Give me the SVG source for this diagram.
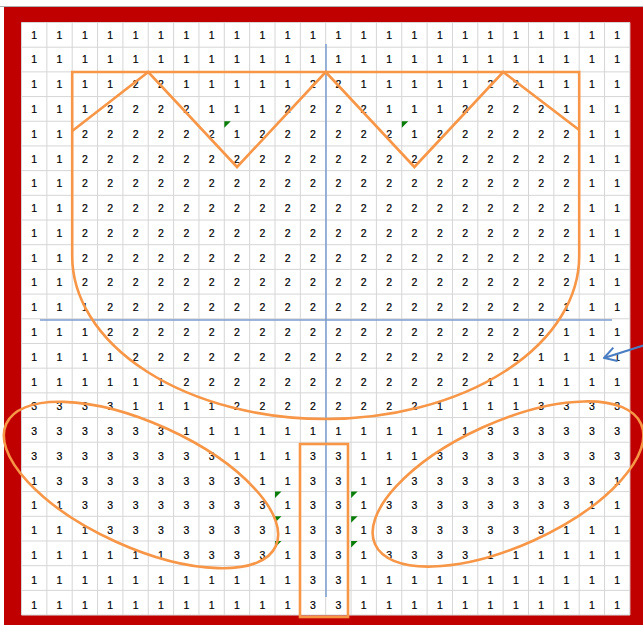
<svg xmlns="http://www.w3.org/2000/svg" width="643" height="625" viewBox="0 0 643 625">
<style>
.n{font-family:"Liberation Sans",Arial,sans-serif;font-size:10.5px;fill:#000;stroke:#000;stroke-width:0.2;text-anchor:middle}
.grid{fill:none;stroke:#d6d6d6;stroke-width:1}
.shape{fill:none;stroke:#f79646;stroke-width:2.6}
.axis{stroke:#7a9ccf;stroke-width:1.5;fill:none}
.err{fill:#0b7d0b}
</style>
<defs>
<marker id="ah" markerWidth="14" markerHeight="16" refX="13" refY="8" orient="auto" markerUnits="userSpaceOnUse">
<path d="M1 1L13 8L1 15" fill="none" stroke="#4a7ec2" stroke-width="2"/>
</marker>
</defs>
<rect width="643" height="625" fill="#fff"/>
<line x1="0" y1="6.5" x2="643" y2="6.5" stroke="#b0b0b0" stroke-width="1"/>
<rect id="frame" x="4" y="7" width="639" height="618" fill="#c00000"/>
<rect x="21.5" y="22.5" width="608.4" height="592.5" fill="#fff"/>
<g id="grid">
<path class="grid" d="M21.5 22.5V615M46.85 22.5V615M72.2 22.5V615M97.55 22.5V615M122.9 22.5V615M148.25 22.5V615M173.6 22.5V615M198.95 22.5V615M224.3 22.5V615M249.65 22.5V615M275 22.5V615M300.35 22.5V615M325.7 22.5V615M351.05 22.5V615M376.4 22.5V615M401.75 22.5V615M427.1 22.5V615M452.45 22.5V615M477.8 22.5V615M503.15 22.5V615M528.5 22.5V615M553.85 22.5V615M579.2 22.5V615M604.55 22.5V615M629.9 22.5V615M21.5 22.5H629.9M21.5 47.19H629.9M21.5 71.88H629.9M21.5 96.57H629.9M21.5 121.26H629.9M21.5 145.95H629.9M21.5 170.64H629.9M21.5 195.33H629.9M21.5 220.02H629.9M21.5 244.71H629.9M21.5 269.4H629.9M21.5 294.09H629.9M21.5 318.78H629.9M21.5 343.47H629.9M21.5 368.16H629.9M21.5 392.85H629.9M21.5 417.54H629.9M21.5 442.23H629.9M21.5 466.92H629.9M21.5 491.61H629.9M21.5 516.3H629.9M21.5 540.99H629.9M21.5 565.68H629.9M21.5 590.37H629.9M21.5 615.06H629.9"/>
</g>
<g id="cells" class="n">
<g transform="translate(0 38.6)"><text x="34.2">1</text><text x="59.5">1</text><text x="84.9">1</text><text x="110.2">1</text><text x="135.6">1</text><text x="160.9">1</text><text x="186.3">1</text><text x="211.6">1</text><text x="237">1</text><text x="262.3">1</text><text x="287.7">1</text><text x="313">1</text><text x="338.4">1</text><text x="363.7">1</text><text x="389.1">1</text><text x="414.4">1</text><text x="439.8">1</text><text x="465.1">1</text><text x="490.5">1</text><text x="515.8">1</text><text x="541.2">1</text><text x="566.5">1</text><text x="591.9">1</text><text x="617.2">1</text></g>
<g transform="translate(0 63.4)"><text x="34.2">1</text><text x="59.5">1</text><text x="84.9">1</text><text x="110.2">1</text><text x="135.6">1</text><text x="160.9">1</text><text x="186.3">1</text><text x="211.6">1</text><text x="237">1</text><text x="262.3">1</text><text x="287.7">1</text><text x="313">1</text><text x="338.4">1</text><text x="363.7">1</text><text x="389.1">1</text><text x="414.4">1</text><text x="439.8">1</text><text x="465.1">1</text><text x="490.5">1</text><text x="515.8">1</text><text x="541.2">1</text><text x="566.5">1</text><text x="591.9">1</text><text x="617.2">1</text></g>
<g transform="translate(0 88.2)"><text x="34.2">1</text><text x="59.5">1</text><text x="84.9">1</text><text x="110.2">1</text><text x="135.6">2</text><text x="160.9">2</text><text x="186.3">1</text><text x="211.6">1</text><text x="237">1</text><text x="262.3">1</text><text x="287.7">1</text><text x="313">2</text><text x="338.4">2</text><text x="363.7">1</text><text x="389.1">1</text><text x="414.4">1</text><text x="439.8">1</text><text x="465.1">1</text><text x="490.5">2</text><text x="515.8">2</text><text x="541.2">1</text><text x="566.5">1</text><text x="591.9">1</text><text x="617.2">1</text></g>
<g transform="translate(0 112.9)"><text x="34.2">1</text><text x="59.5">1</text><text x="84.9">1</text><text x="110.2">2</text><text x="135.6">2</text><text x="160.9">2</text><text x="186.3">2</text><text x="211.6">1</text><text x="237">1</text><text x="262.3">1</text><text x="287.7">2</text><text x="313">2</text><text x="338.4">2</text><text x="363.7">2</text><text x="389.1">1</text><text x="414.4">1</text><text x="439.8">1</text><text x="465.1">2</text><text x="490.5">2</text><text x="515.8">2</text><text x="541.2">2</text><text x="566.5">1</text><text x="591.9">1</text><text x="617.2">1</text></g>
<g transform="translate(0 137.7)"><text x="34.2">1</text><text x="59.5">1</text><text x="84.9">2</text><text x="110.2">2</text><text x="135.6">2</text><text x="160.9">2</text><text x="186.3">2</text><text x="211.6">2</text><text x="237">1</text><text x="262.3">2</text><text x="287.7">2</text><text x="313">2</text><text x="338.4">2</text><text x="363.7">2</text><text x="389.1">2</text><text x="414.4">1</text><text x="439.8">2</text><text x="465.1">2</text><text x="490.5">2</text><text x="515.8">2</text><text x="541.2">2</text><text x="566.5">2</text><text x="591.9">1</text><text x="617.2">1</text></g>
<g transform="translate(0 162.5)"><text x="34.2">1</text><text x="59.5">1</text><text x="84.9">2</text><text x="110.2">2</text><text x="135.6">2</text><text x="160.9">2</text><text x="186.3">2</text><text x="211.6">2</text><text x="237">2</text><text x="262.3">2</text><text x="287.7">2</text><text x="313">2</text><text x="338.4">2</text><text x="363.7">2</text><text x="389.1">2</text><text x="414.4">2</text><text x="439.8">2</text><text x="465.1">2</text><text x="490.5">2</text><text x="515.8">2</text><text x="541.2">2</text><text x="566.5">2</text><text x="591.9">1</text><text x="617.2">1</text></g>
<g transform="translate(0 187.3)"><text x="34.2">1</text><text x="59.5">1</text><text x="84.9">2</text><text x="110.2">2</text><text x="135.6">2</text><text x="160.9">2</text><text x="186.3">2</text><text x="211.6">2</text><text x="237">2</text><text x="262.3">2</text><text x="287.7">2</text><text x="313">2</text><text x="338.4">2</text><text x="363.7">2</text><text x="389.1">2</text><text x="414.4">2</text><text x="439.8">2</text><text x="465.1">2</text><text x="490.5">2</text><text x="515.8">2</text><text x="541.2">2</text><text x="566.5">2</text><text x="591.9">1</text><text x="617.2">1</text></g>
<g transform="translate(0 212.1)"><text x="34.2">1</text><text x="59.5">1</text><text x="84.9">2</text><text x="110.2">2</text><text x="135.6">2</text><text x="160.9">2</text><text x="186.3">2</text><text x="211.6">2</text><text x="237">2</text><text x="262.3">2</text><text x="287.7">2</text><text x="313">2</text><text x="338.4">2</text><text x="363.7">2</text><text x="389.1">2</text><text x="414.4">2</text><text x="439.8">2</text><text x="465.1">2</text><text x="490.5">2</text><text x="515.8">2</text><text x="541.2">2</text><text x="566.5">2</text><text x="591.9">1</text><text x="617.2">1</text></g>
<g transform="translate(0 236.8)"><text x="34.2">1</text><text x="59.5">1</text><text x="84.9">2</text><text x="110.2">2</text><text x="135.6">2</text><text x="160.9">2</text><text x="186.3">2</text><text x="211.6">2</text><text x="237">2</text><text x="262.3">2</text><text x="287.7">2</text><text x="313">2</text><text x="338.4">2</text><text x="363.7">2</text><text x="389.1">2</text><text x="414.4">2</text><text x="439.8">2</text><text x="465.1">2</text><text x="490.5">2</text><text x="515.8">2</text><text x="541.2">2</text><text x="566.5">2</text><text x="591.9">1</text><text x="617.2">1</text></g>
<g transform="translate(0 261.6)"><text x="34.2">1</text><text x="59.5">1</text><text x="84.9">2</text><text x="110.2">2</text><text x="135.6">2</text><text x="160.9">2</text><text x="186.3">2</text><text x="211.6">2</text><text x="237">2</text><text x="262.3">2</text><text x="287.7">2</text><text x="313">2</text><text x="338.4">2</text><text x="363.7">2</text><text x="389.1">2</text><text x="414.4">2</text><text x="439.8">2</text><text x="465.1">2</text><text x="490.5">2</text><text x="515.8">2</text><text x="541.2">2</text><text x="566.5">2</text><text x="591.9">1</text><text x="617.2">1</text></g>
<g transform="translate(0 286.4)"><text x="34.2">1</text><text x="59.5">1</text><text x="84.9">2</text><text x="110.2">2</text><text x="135.6">2</text><text x="160.9">2</text><text x="186.3">2</text><text x="211.6">2</text><text x="237">2</text><text x="262.3">2</text><text x="287.7">2</text><text x="313">2</text><text x="338.4">2</text><text x="363.7">2</text><text x="389.1">2</text><text x="414.4">2</text><text x="439.8">2</text><text x="465.1">2</text><text x="490.5">2</text><text x="515.8">2</text><text x="541.2">2</text><text x="566.5">2</text><text x="591.9">1</text><text x="617.2">1</text></g>
<g transform="translate(0 311.2)"><text x="34.2">1</text><text x="59.5">1</text><text x="84.9">1</text><text x="110.2">2</text><text x="135.6">2</text><text x="160.9">2</text><text x="186.3">2</text><text x="211.6">2</text><text x="237">2</text><text x="262.3">2</text><text x="287.7">2</text><text x="313">2</text><text x="338.4">2</text><text x="363.7">2</text><text x="389.1">2</text><text x="414.4">2</text><text x="439.8">2</text><text x="465.1">2</text><text x="490.5">2</text><text x="515.8">2</text><text x="541.2">2</text><text x="566.5">1</text><text x="591.9">1</text><text x="617.2">1</text></g>
<g transform="translate(0 336)"><text x="34.2">1</text><text x="59.5">1</text><text x="84.9">1</text><text x="110.2">2</text><text x="135.6">2</text><text x="160.9">2</text><text x="186.3">2</text><text x="211.6">2</text><text x="237">2</text><text x="262.3">2</text><text x="287.7">2</text><text x="313">2</text><text x="338.4">2</text><text x="363.7">2</text><text x="389.1">2</text><text x="414.4">2</text><text x="439.8">2</text><text x="465.1">2</text><text x="490.5">2</text><text x="515.8">2</text><text x="541.2">2</text><text x="566.5">1</text><text x="591.9">1</text><text x="617.2">1</text></g>
<g transform="translate(0 360.7)"><text x="34.2">1</text><text x="59.5">1</text><text x="84.9">1</text><text x="110.2">1</text><text x="135.6">2</text><text x="160.9">2</text><text x="186.3">2</text><text x="211.6">2</text><text x="237">2</text><text x="262.3">2</text><text x="287.7">2</text><text x="313">2</text><text x="338.4">2</text><text x="363.7">2</text><text x="389.1">2</text><text x="414.4">2</text><text x="439.8">2</text><text x="465.1">2</text><text x="490.5">2</text><text x="515.8">2</text><text x="541.2">1</text><text x="566.5">1</text><text x="591.9">1</text><text x="617.2">1</text></g>
<g transform="translate(0 385.5)"><text x="34.2">1</text><text x="59.5">1</text><text x="84.9">1</text><text x="110.2">1</text><text x="135.6">1</text><text x="160.9">1</text><text x="186.3">2</text><text x="211.6">2</text><text x="237">2</text><text x="262.3">2</text><text x="287.7">2</text><text x="313">2</text><text x="338.4">2</text><text x="363.7">2</text><text x="389.1">2</text><text x="414.4">2</text><text x="439.8">2</text><text x="465.1">2</text><text x="490.5">1</text><text x="515.8">1</text><text x="541.2">1</text><text x="566.5">1</text><text x="591.9">1</text><text x="617.2">1</text></g>
<g transform="translate(0 410.3)"><text x="34.2">3</text><text x="59.5">3</text><text x="84.9">3</text><text x="110.2">3</text><text x="135.6">1</text><text x="160.9">1</text><text x="186.3">1</text><text x="211.6">1</text><text x="237">2</text><text x="262.3">2</text><text x="287.7">2</text><text x="313">2</text><text x="338.4">2</text><text x="363.7">2</text><text x="389.1">2</text><text x="414.4">2</text><text x="439.8">1</text><text x="465.1">1</text><text x="490.5">1</text><text x="515.8">1</text><text x="541.2">3</text><text x="566.5">3</text><text x="591.9">3</text><text x="617.2">3</text></g>
<g transform="translate(0 435.1)"><text x="34.2">3</text><text x="59.5">3</text><text x="84.9">3</text><text x="110.2">3</text><text x="135.6">3</text><text x="160.9">3</text><text x="186.3">1</text><text x="211.6">1</text><text x="237">1</text><text x="262.3">1</text><text x="287.7">1</text><text x="313">1</text><text x="338.4">1</text><text x="363.7">1</text><text x="389.1">1</text><text x="414.4">1</text><text x="439.8">1</text><text x="465.1">1</text><text x="490.5">3</text><text x="515.8">3</text><text x="541.2">3</text><text x="566.5">3</text><text x="591.9">3</text><text x="617.2">3</text></g>
<g transform="translate(0 459.9)"><text x="34.2">3</text><text x="59.5">3</text><text x="84.9">3</text><text x="110.2">3</text><text x="135.6">3</text><text x="160.9">3</text><text x="186.3">3</text><text x="211.6">3</text><text x="237">1</text><text x="262.3">1</text><text x="287.7">1</text><text x="313">3</text><text x="338.4">3</text><text x="363.7">1</text><text x="389.1">1</text><text x="414.4">1</text><text x="439.8">3</text><text x="465.1">3</text><text x="490.5">3</text><text x="515.8">3</text><text x="541.2">3</text><text x="566.5">3</text><text x="591.9">3</text><text x="617.2">3</text></g>
<g transform="translate(0 484.6)"><text x="34.2">1</text><text x="59.5">3</text><text x="84.9">3</text><text x="110.2">3</text><text x="135.6">3</text><text x="160.9">3</text><text x="186.3">3</text><text x="211.6">3</text><text x="237">3</text><text x="262.3">1</text><text x="287.7">1</text><text x="313">3</text><text x="338.4">3</text><text x="363.7">1</text><text x="389.1">1</text><text x="414.4">3</text><text x="439.8">3</text><text x="465.1">3</text><text x="490.5">3</text><text x="515.8">3</text><text x="541.2">3</text><text x="566.5">3</text><text x="591.9">3</text><text x="617.2">1</text></g>
<g transform="translate(0 509.4)"><text x="34.2">1</text><text x="59.5">1</text><text x="84.9">3</text><text x="110.2">3</text><text x="135.6">3</text><text x="160.9">3</text><text x="186.3">3</text><text x="211.6">3</text><text x="237">3</text><text x="262.3">3</text><text x="287.7">1</text><text x="313">3</text><text x="338.4">3</text><text x="363.7">1</text><text x="389.1">3</text><text x="414.4">3</text><text x="439.8">3</text><text x="465.1">3</text><text x="490.5">3</text><text x="515.8">3</text><text x="541.2">3</text><text x="566.5">3</text><text x="591.9">1</text><text x="617.2">1</text></g>
<g transform="translate(0 534.2)"><text x="34.2">1</text><text x="59.5">1</text><text x="84.9">1</text><text x="110.2">3</text><text x="135.6">3</text><text x="160.9">3</text><text x="186.3">3</text><text x="211.6">3</text><text x="237">3</text><text x="262.3">3</text><text x="287.7">1</text><text x="313">3</text><text x="338.4">3</text><text x="363.7">1</text><text x="389.1">3</text><text x="414.4">3</text><text x="439.8">3</text><text x="465.1">3</text><text x="490.5">3</text><text x="515.8">3</text><text x="541.2">3</text><text x="566.5">1</text><text x="591.9">1</text><text x="617.2">1</text></g>
<g transform="translate(0 559)"><text x="34.2">1</text><text x="59.5">1</text><text x="84.9">1</text><text x="110.2">1</text><text x="135.6">1</text><text x="160.9">1</text><text x="186.3">3</text><text x="211.6">3</text><text x="237">3</text><text x="262.3">3</text><text x="287.7">1</text><text x="313">3</text><text x="338.4">3</text><text x="363.7">1</text><text x="389.1">3</text><text x="414.4">3</text><text x="439.8">3</text><text x="465.1">3</text><text x="490.5">1</text><text x="515.8">1</text><text x="541.2">1</text><text x="566.5">1</text><text x="591.9">1</text><text x="617.2">1</text></g>
<g transform="translate(0 583.7)"><text x="34.2">1</text><text x="59.5">1</text><text x="84.9">1</text><text x="110.2">1</text><text x="135.6">1</text><text x="160.9">1</text><text x="186.3">1</text><text x="211.6">1</text><text x="237">1</text><text x="262.3">1</text><text x="287.7">1</text><text x="313">3</text><text x="338.4">3</text><text x="363.7">1</text><text x="389.1">1</text><text x="414.4">1</text><text x="439.8">1</text><text x="465.1">1</text><text x="490.5">1</text><text x="515.8">1</text><text x="541.2">1</text><text x="566.5">1</text><text x="591.9">1</text><text x="617.2">1</text></g>
<g transform="translate(0 608.5)"><text x="34.2">1</text><text x="59.5">1</text><text x="84.9">1</text><text x="110.2">1</text><text x="135.6">1</text><text x="160.9">1</text><text x="186.3">1</text><text x="211.6">1</text><text x="237">1</text><text x="262.3">1</text><text x="287.7">1</text><text x="313">3</text><text x="338.4">3</text><text x="363.7">1</text><text x="389.1">1</text><text x="414.4">1</text><text x="439.8">1</text><text x="465.1">1</text><text x="490.5">1</text><text x="515.8">1</text><text x="541.2">1</text><text x="566.5">1</text><text x="591.9">1</text><text x="617.2">1</text></g>
</g>
<g id="error-marks" class="err">
<path d="M224.3 121.3h6.5l-6.5 6.5z"/>
<path d="M401.8 121.3h6.5l-6.5 6.5z"/>
<path d="M275 491.6h6.5l-6.5 6.5z"/>
<path d="M275 516.3h6.5l-6.5 6.5z"/>
<path d="M275 541h6.5l-6.5 6.5z"/>
<path d="M351.1 491.6h6.5l-6.5 6.5z"/>
<path d="M351.1 516.3h6.5l-6.5 6.5z"/>
<path d="M351.1 541h6.5l-6.5 6.5z"/>
</g>
<g id="axes" class="axis">
<line x1="326" y1="44" x2="326" y2="597"/>
<line x1="40" y1="320" x2="612" y2="320"/>
</g>
<g id="tulip-head" class="shape">
<path d="M72.2 72H579.2V256A253.5 163 0 0 1 72.2 256Z"/>
<path d="M72.2 131L148.25 72L237 167L325.7 72L414.4 167L503.15 72L579.2 130"/>
</g>
<g id="leaf-left" class="shape">
<ellipse cx="141" cy="485" rx="148" ry="62" transform="rotate(24.4 141 485)"/>
</g>
<g id="leaf-right" class="shape">
<ellipse cx="508" cy="484" rx="146" ry="62" transform="rotate(-24.4 508 484)"/>
</g>
<g id="stem" class="shape">
<rect x="300" y="444" width="48" height="173"/>
</g>
<g id="connectors">
<line x1="645" y1="345" x2="604" y2="358" stroke="#4a7ec2" stroke-width="2" marker-end="url(#ah)"/>
</g>
</svg>
